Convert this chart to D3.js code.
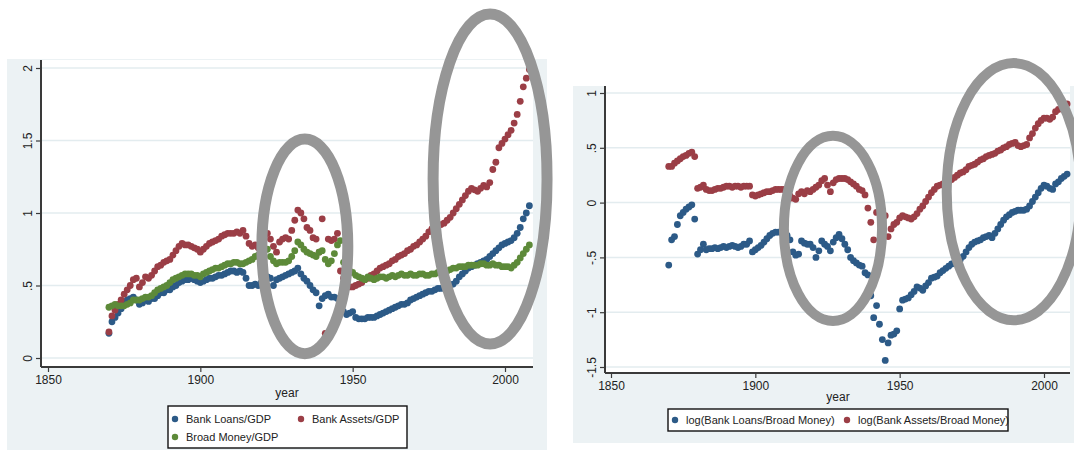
<!DOCTYPE html>
<html>
<head>
<meta charset="utf-8">
<script src="https://cdn.jsdelivr.net/npm/d3@7"></script>
<style>
  body { margin: 0; background: #fff; }
  svg { display: block; font-family: "Liberation Sans", Arial, sans-serif; }
  .axis path, .axis line { stroke: #3a3a3a; }
  .axis text { fill: #222; font-size: 12px; }
</style>
</head>
<body>
<div id="chart"></div>
<script>
// years shared by both panels
var years = d3.range(1870, 2009);

// left panel: ratios to GDP
var loansGDP = [
  0.17, 0.25, 0.28, 0.31, 0.34, 0.38, 0.40, 0.41, 0.42, 0.40,
  0.37, 0.38, 0.40, 0.39, 0.41, 0.41, 0.43, 0.45, 0.45, 0.47,
  0.47, 0.49, 0.50, 0.52, 0.53, 0.54, 0.54, 0.55, 0.54, 0.53,
  0.52, 0.53, 0.54, 0.55, 0.55, 0.56, 0.57, 0.57, 0.58, 0.59,
  0.60, 0.60, 0.59, 0.60, 0.59, 0.55, 0.50, 0.50, 0.51, 0.50,
  0.52, 0.51, 0.56, 0.55, 0.50, 0.54, 0.55, 0.56, 0.57, 0.58,
  0.59, 0.60, 0.62, 0.58, 0.55, 0.53, 0.50, 0.47, 0.45, 0.36,
  0.41, 0.43, 0.44, 0.42, 0.42, 0.41, 0.33, 0.32, 0.30, 0.31,
  0.32, 0.28, 0.27, 0.27, 0.27, 0.28, 0.28, 0.28, 0.29, 0.30,
  0.31, 0.32, 0.33, 0.34, 0.35, 0.36, 0.37, 0.37, 0.38, 0.40,
  0.41, 0.42, 0.43, 0.44, 0.45, 0.46, 0.46, 0.47, 0.48, 0.48,
  0.49, 0.49, 0.50, 0.51, 0.53, 0.56, 0.58, 0.60, 0.62, 0.63,
  0.64, 0.65, 0.66, 0.67, 0.68, 0.70, 0.72, 0.74, 0.76, 0.78,
  0.79, 0.80, 0.81, 0.83, 0.86, 0.90, 0.96, 1.00, 1.05
];
var assetsGDP = [
  0.18, 0.29, 0.33, 0.37, 0.40, 0.44, 0.47, 0.50, 0.54, 0.55,
  0.49, 0.52, 0.56, 0.55, 0.57, 0.60, 0.63, 0.64, 0.66, 0.67,
  0.68, 0.71, 0.74, 0.77, 0.79, 0.78, 0.78, 0.77, 0.76, 0.75,
  0.73, 0.75, 0.77, 0.79, 0.80, 0.81, 0.82, 0.84, 0.85, 0.86,
  0.86, 0.86, 0.87, 0.86, 0.88, 0.84, 0.79, 0.77, 0.78, 0.76,
  0.80, 0.84, 0.86, 0.82, 0.77, 0.73, 0.80, 0.82, 0.83, 0.82,
  0.88, 0.95, 1.02, 1.00, 0.96, 0.90, 0.88, 0.83, 0.82, 0.73,
  0.96, 0.17, 0.82, 0.81, 0.82, 0.86, 0.60, 0.55, 0.51, 0.49,
  0.49, 0.50, 0.51, 0.52, 0.54, 0.55, 0.57, 0.58, 0.60, 0.62,
  0.63, 0.64, 0.65, 0.67, 0.68, 0.70, 0.71, 0.72, 0.74, 0.75,
  0.77, 0.78, 0.80, 0.82, 0.84, 0.87, 0.89, 0.90, 0.91, 0.92,
  0.93, 0.95, 0.97, 1.00, 1.03, 1.06, 1.09, 1.12, 1.15, 1.17,
  1.16, 1.15, 1.17, 1.19, 1.18, 1.21, 1.30, 1.35, 1.45, 1.48,
  1.51, 1.54, 1.57, 1.62, 1.68, 1.77, 1.87, 1.93, 1.99
];
var moneyGDP = [
  0.35, 0.36, 0.37, 0.36, 0.36, 0.36, 0.37, 0.38, 0.40, 0.40,
  0.40, 0.41, 0.42, 0.42, 0.43, 0.45, 0.47, 0.48, 0.49, 0.50,
  0.52, 0.54, 0.55, 0.56, 0.57, 0.58, 0.58, 0.58, 0.57, 0.57,
  0.56, 0.58, 0.59, 0.60, 0.61, 0.62, 0.62, 0.63, 0.64, 0.65,
  0.65, 0.66, 0.66, 0.65, 0.65, 0.66, 0.67, 0.68, 0.70, 0.71,
  0.72, 0.74, 0.75, 0.70, 0.67, 0.65, 0.66, 0.66, 0.66, 0.67,
  0.70, 0.74, 0.80, 0.78, 0.75, 0.73, 0.72, 0.71, 0.70, 0.73,
  0.74, 0.68, 0.65, 0.67, 0.72, 0.78, 0.81, 0.66, 0.62, 0.60,
  0.59, 0.57, 0.56, 0.55, 0.54, 0.56, 0.55, 0.54, 0.55, 0.56,
  0.56, 0.55, 0.56, 0.57, 0.56, 0.57, 0.58, 0.57, 0.57, 0.58,
  0.57, 0.57, 0.58, 0.58, 0.57, 0.57, 0.58, 0.58, 0.59, 0.60,
  0.60, 0.60, 0.61, 0.62, 0.62, 0.63, 0.63, 0.63, 0.64, 0.64,
  0.64, 0.64, 0.65, 0.65, 0.64, 0.64, 0.65, 0.64, 0.64, 0.63,
  0.63, 0.63, 0.62, 0.64, 0.66, 0.69, 0.72, 0.75, 0.78
];

// right panel: logs of ratios to broad money
var logLoansMoney = [
  -0.57, -0.34, -0.31, -0.20, -0.12, -0.09, -0.06, -0.04, -0.02, -0.15,
  -0.47, -0.43, -0.38, -0.43, -0.42, -0.42, -0.41, -0.42, -0.41, -0.40,
  -0.41, -0.40, -0.39, -0.40, -0.41, -0.40, -0.38, -0.38, -0.35, -0.45,
  -0.43, -0.41, -0.39, -0.36, -0.33, -0.30, -0.28, -0.27, -0.27, -0.27,
  -0.28, -0.30, -0.34, -0.45, -0.48, -0.47, -0.35, -0.37, -0.38, -0.38,
  -0.41, -0.50, -0.44, -0.35, -0.38, -0.40, -0.44, -0.36, -0.32, -0.29,
  -0.33, -0.38, -0.43, -0.50, -0.53, -0.55, -0.57, -0.58, -0.64, -0.66,
  -0.85, -1.05, -0.94, -1.11, -1.25, -1.44, -1.28, -1.21, -1.20, -1.17,
  -0.97, -0.89, -0.88, -0.87, -0.84, -0.81, -0.77, -0.78, -0.80, -0.76,
  -0.73, -0.69, -0.68, -0.67, -0.64, -0.62, -0.60, -0.58, -0.56, -0.55,
  -0.53, -0.52, -0.49, -0.45, -0.41, -0.38, -0.36, -0.35, -0.34, -0.32,
  -0.31, -0.30, -0.32, -0.28, -0.24, -0.20, -0.16, -0.13, -0.11, -0.09,
  -0.08, -0.07, -0.07, -0.07, -0.06, -0.03, 0.01, 0.05, 0.09, 0.13,
  0.16, 0.15, 0.13, 0.12, 0.17, 0.19, 0.22, 0.24, 0.26
];
var logAssetsMoney = [
  0.33, 0.33, 0.36, 0.38, 0.40, 0.42, 0.43, 0.45, 0.46, 0.42,
  0.13, 0.14, 0.16, 0.12, 0.11, 0.11, 0.12, 0.13, 0.13, 0.14,
  0.15, 0.15, 0.14, 0.15, 0.15, 0.14, 0.15, 0.15, 0.15, 0.07,
  0.06, 0.07, 0.08, 0.09, 0.10, 0.10, 0.11, 0.12, 0.12, 0.12,
  0.12, 0.09, 0.06, 0.04, 0.03, 0.08, 0.10, 0.08, 0.11, 0.10,
  0.12, 0.14, 0.16, 0.20, 0.22, 0.16, 0.10, 0.18, 0.21, 0.22,
  0.22, 0.22, 0.21, 0.19, 0.17, 0.15, 0.12, 0.11, 0.07, -0.05,
  -0.18, -0.34, -0.09, -0.09, -0.12, -0.12, -0.31, -0.24, -0.20, -0.18,
  -0.14, -0.12, -0.13, -0.14, -0.15, -0.13, -0.10, -0.06, -0.03, 0.01,
  0.05, 0.09, 0.12, 0.15, 0.16, 0.17, 0.18, 0.19, 0.21, 0.23,
  0.25, 0.27, 0.28, 0.30, 0.33, 0.34, 0.35, 0.37, 0.39, 0.40,
  0.42, 0.43, 0.44, 0.45, 0.47, 0.48, 0.50, 0.51, 0.53, 0.54,
  0.55, 0.52, 0.51, 0.52, 0.53, 0.59, 0.63, 0.68, 0.72, 0.75,
  0.77, 0.77, 0.76, 0.78, 0.83, 0.85, 0.87, 0.89, 0.90
];

// axis ticks
var xTicks = [1850, 1900, 1950, 2000];
var yTicksLeft = [0, 0.5, 1, 1.5, 2];
var yTicksRight = [-1.5, -1, -0.5, 0, 0.5, 1];

// highlight ellipses: [centre year, centre value, half width in years, half height in units]
var ellipsesLeft = [[1934.3, 0.77, 14.1, 0.74], [1995.1, 1.234, 18.7, 1.138]];
var ellipsesRight = [[1926.9, -0.236, 17.0, 0.845], [1989.5, 0.10, 23.2, 1.173]];

var colors = { loans: "#2c5a87", assets: "#9b3e46", money: "#5d8a39" };
var panelBg = "#ecf2f4", gridColor = "#e3ecef", ringColor = "#969696";

var svg = d3.select("#chart").append("svg")
  .attr("width", 1074)
  .attr("height", 450);

// stata-ish tick labels: .5, -.5, 1.5
function fmt(v) {
  var s = String(v);
  return s.replace(/^0\./, ".").replace(/^-0\./, "-.");
}

function panel(opt) {
  var g = svg.append("g");

  g.append("rect")
    .attr("x", opt.box[0]).attr("y", opt.box[1])
    .attr("width", opt.box[2] - opt.box[0]).attr("height", opt.box[3] - opt.box[1])
    .attr("fill", panelBg);
  g.append("rect")
    .attr("x", opt.plot[0]).attr("y", opt.plot[1])
    .attr("width", opt.plot[2] - opt.plot[0]).attr("height", opt.plot[3] - opt.plot[1])
    .attr("fill", "#fff");

  var x = d3.scaleLinear().domain([1850, 2000]).range(opt.xr);
  var y = d3.scaleLinear().domain(opt.ydom).range(opt.yr);

  // gridlines
  g.selectAll(".grid").data(opt.yTicks).enter().append("line")
    .attr("x1", opt.plot[0]).attr("x2", opt.plot[2])
    .attr("y1", d => y(d)).attr("y2", d => y(d))
    .attr("stroke", gridColor).attr("stroke-width", 1.5);

  // series
  opt.series.forEach(function (s) {
    g.append("g").selectAll("circle")
      .data(years.map((yr, i) => [yr, s.values[i]]))
      .enter().append("circle")
      .attr("cx", d => x(d[0]))
      .attr("cy", d => y(d[1]))
      .attr("r", 3.4)
      .attr("fill", s.color);
  });

  // axes
  var xAxisG = g.append("g").attr("class", "axis")
    .attr("transform", "translate(0," + opt.plot[3] + ")")
    .call(d3.axisBottom(x).tickValues(xTicks).tickSize(5).tickPadding(3).tickFormat(d3.format("d")));
  xAxisG.select(".domain").attr("d", "M" + opt.plot[0] + ",0H" + opt.plot[2]).attr("stroke-width", 2);
  xAxisG.selectAll(".tick line").attr("stroke-width", 1.2);

  var yAxisG = g.append("g").attr("class", "axis")
    .attr("transform", "translate(" + opt.plot[0] + ",0)")
    .call(d3.axisLeft(y).tickValues(opt.yTicks).tickSize(5).tickFormat(fmt));
  yAxisG.select(".domain").attr("d", "M0," + opt.plot[1] + "V" + opt.plot[3]).attr("stroke-width", 2);
  yAxisG.selectAll(".tick line").attr("stroke-width", 1.2);
  yAxisG.selectAll(".tick text")
    .attr("transform", "rotate(-90)")
    .attr("x", 0).attr("y", -9).attr("dy", 0)
    .attr("text-anchor", "middle");

  g.append("text")
    .attr("x", opt.yearLabel[0]).attr("y", opt.yearLabel[1])
    .attr("text-anchor", "middle")
    .attr("font-size", 12).attr("fill", "#222")
    .text("year");

  // legend
  var lg = opt.legend;
  g.append("rect")
    .attr("x", lg.box[0]).attr("y", lg.box[1])
    .attr("width", lg.box[2] - lg.box[0]).attr("height", lg.box[3] - lg.box[1])
    .attr("fill", "#fff").attr("stroke", "#111").attr("stroke-width", 1.4);
  lg.items.forEach(function (it) {
    g.append("circle").attr("cx", it.at[0]).attr("cy", it.at[1]).attr("r", 3.2).attr("fill", it.color);
    g.append("text")
      .attr("x", it.at[0] + 11).attr("y", it.at[1] + 4)
      .attr("font-size", 11).attr("fill", "#222")
      .text(it.label);
  });

  // grey rings drawn over everything
  opt.rings.forEach(function (e) {
    g.append("ellipse")
      .attr("cx", x(e[0])).attr("cy", y(e[1]))
      .attr("rx", x(e[0] + e[2]) - x(e[0]))
      .attr("ry", y(e[1] - e[3]) - y(e[1]))
      .attr("fill", "none")
      .attr("stroke", ringColor)
      .attr("stroke-width", opt.ringWidth);
  });
}

panel({
  box: [7, 59, 547, 450],
  plot: [41, 60, 533, 367],
  xr: [48, 505],
  ydom: [0, 2], yr: [358, 68],
  yTicks: yTicksLeft,
  series: [
    { values: loansGDP, color: colors.loans },
    { values: assetsGDP, color: colors.assets },
    { values: moneyGDP, color: colors.money }
  ],
  yearLabel: [287, 397],
  legend: {
    box: [168, 406, 407, 448],
    items: [
      { label: "Bank Loans/GDP", color: colors.loans, at: [175, 419] },
      { label: "Bank Assets/GDP", color: colors.assets, at: [301, 419] },
      { label: "Broad Money/GDP", color: colors.money, at: [175, 437] }
    ]
  },
  rings: ellipsesLeft,
  ringWidth: 11
});

panel({
  box: [573, 86, 1074, 443],
  plot: [605, 86, 1070, 373],
  xr: [611, 1044],
  ydom: [-1.5, 1], yr: [367, 93],
  yTicks: yTicksRight,
  series: [
    { values: logLoansMoney, color: colors.loans },
    { values: logAssetsMoney, color: colors.assets }
  ],
  yearLabel: [838, 401],
  legend: {
    box: [668, 409, 1008, 431],
    items: [
      { label: "log(Bank Loans/Broad Money)", color: colors.loans, at: [675, 420] },
      { label: "log(Bank Assets/Broad Money)", color: colors.assets, at: [847, 420] }
    ]
  },
  rings: ellipsesRight,
  ringWidth: 10
});
</script>
</body>
</html>
